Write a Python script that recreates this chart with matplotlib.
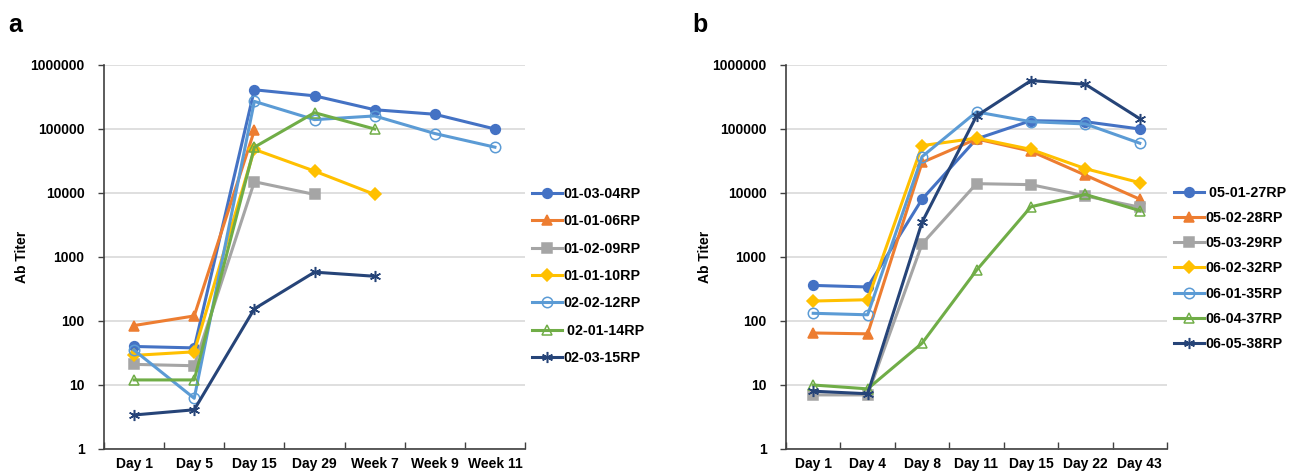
import numpy as np
import matplotlib
matplotlib.use('Agg')
import matplotlib.pyplot as plt
from matplotlib.ticker import FixedLocator, FuncFormatter, NullLocator

plt.rcParams['font.family'] = ['Liberation Sans', 'DejaVu Sans']
plt.rcParams['font.weight'] = 'bold'

nan = np.nan

# Panel a data
days_a = ['Day 1', 'Day 5', 'Day 15', 'Day 29', 'Week 7', 'Week 9', 'Week 11']
names_a = ['01-03-04RP', '01-01-06RP', '01-02-09RP', '01-01-10RP',
           '02-02-12RP', ' 02-01-14RP', '02-03-15RP']
s_0104 = [40, 38, 410000, 330000, 200000, 170000, 100000]
s_0106 = [85, 120, 95000, nan, nan, nan, nan]
s_0109 = [21, 20, 15000, 9500, nan, nan, nan]
s_0110 = [29, 33, 48000, 22000, 9500, nan, nan]
s_0212 = [35, 6.2, 270000, 140000, 160000, 85000, 52000]
s_0214 = [12, 12, 52000, 180000, 100000, nan, nan]
s_0215 = [3.4, 4.1, 155, 580, 500, nan, nan]
vals_a = [s_0104, s_0106, s_0109, s_0110, s_0212, s_0214, s_0215]

# Panel b data
days_b = ['Day 1', 'Day 4', 'Day 8', 'Day 11', 'Day 15', 'Day 22', 'Day 43']
names_b = [' 05-01-27RP', '05-02-28RP', '05-03-29RP', '06-02-32RP',
           '06-01-35RP', '06-04-37RP', '06-05-38RP']
s_0527 = [360, 340, 8000, 70000, 135000, 130000, 100000]
s_0528 = [65, 63, 30000, 70000, 45000, 19000, 8000]
s_0529 = [7, 7, 1600, 14000, 13500, 9000, 6000]
s_0632 = [205, 215, 55000, 72000, 48000, 24000, 14500]
s_0635 = [132, 125, 37000, 185000, 130000, 120000, 60000]
s_0637 = [10, 8.7, 45, 620, 6100, 9500, 5300]
s_0638 = [8, 7.3, 3500, 160000, 570000, 500000, 145000]
vals_b = [s_0527, s_0528, s_0529, s_0632, s_0635, s_0637, s_0638]

# style per series position (same scheme in both panels)
styles = [
    dict(color='#4472C4', marker='o', mfc='#4472C4', ms=7),
    dict(color='#ED7D31', marker='^', mfc='#ED7D31', ms=7.5),
    dict(color='#A5A5A5', marker='s', mfc='#A5A5A5', ms=7),
    dict(color='#FFC000', marker='D', mfc='#FFC000', ms=6),
    dict(color='#5B9BD5', marker='o', mfc='none', ms=7.5),
    dict(color='#70AD47', marker='^', mfc='none', ms=7.5),
    dict(color='#264478', marker=(6, 2, 0), mfc='#264478', ms=8),
]

fig = plt.figure(figsize=(12.89, 4.72), dpi=100)

W, H = 1289, 472
def add_axes(x0, x1):
    return fig.add_axes([x0 / W, 1 - 449 / H, (x1 - x0) / W, (449 - 65) / H])

def draw(ax, cats, names, vals, leg_x, leg_top, spacing):
    x = np.arange(len(cats))
    for name, v, st in zip(names, vals, styles):
        ax.plot(x, v, label=name, lw=2.2, mew=1.1, mec=st['color'], **st)
    ax.set_yscale('log')
    ax.set_ylim(1, 1e6)
    ax.set_xlim(-0.5, len(cats) - 0.5)
    ax.yaxis.set_major_locator(FixedLocator([10 ** k for k in range(7)]))
    ax.yaxis.set_minor_locator(NullLocator())
    ax.yaxis.set_major_formatter(FuncFormatter(lambda v, p: f'{v:.0f}'))
    ax.set_xticks(x)
    ax.set_xticklabels(cats)
    ax.set_xticks(np.arange(len(cats) + 1) - 0.5, minor=True)
    ax.tick_params(axis='x', which='major', length=0, pad=6, labelsize=10)
    ax.tick_params(axis='x', which='minor', direction='in', length=5, width=1, color='#404040')
    ax.tick_params(axis='y', direction='out', length=4, width=1, color='#404040', labelsize=10, pad=10)
    for t in ax.get_xticklabels() + ax.get_yticklabels():
        t.set_fontweight('bold')
    ax.grid(axis='y', color='#D9D9D9', lw=1.2)
    ax.set_axisbelow(True)
    ax.spines['top'].set_visible(False)
    ax.spines['right'].set_visible(False)
    ax.spines['left'].set_color('#404040')
    ax.spines['bottom'].set_color('#404040')
    ax.spines['left'].set_linewidth(1.2)
    ax.spines['bottom'].set_linewidth(1.2)
    fig.legend(*ax.get_legend_handles_labels(), loc='upper left',
               bbox_to_anchor=(leg_x / W, 1 - leg_top / H), frameon=False,
               borderpad=0, borderaxespad=0, handlelength=2.1, handletextpad=0.1,
               labelspacing=spacing, prop=dict(size=10.3, weight='bold'))

ax_a = add_axes(104, 525)
draw(ax_a, days_a, names_a, vals_a, 532, 187, 0.93)
ax_b = add_axes(786, 1167)
draw(ax_b, days_b, names_b, vals_b, 1174, 186, 0.78)

fig.text(8 / W, 1 - 25 / H, 'a', fontsize=18, fontweight='bold', va='center', ha='left')
fig.text(692 / W, 1 - 25 / H, 'b', fontsize=18, fontweight='bold', va='center', ha='left')
fig.text(22 / W, 1 - 257 / H, 'Ab Titer', fontsize=10, fontweight='bold', rotation=90, va='center', ha='center')
fig.text(705 / W, 1 - 257 / H, 'Ab Titer', fontsize=10, fontweight='bold', rotation=90, va='center', ha='center')

fig.savefig('out.png', dpi=100, facecolor='white')
